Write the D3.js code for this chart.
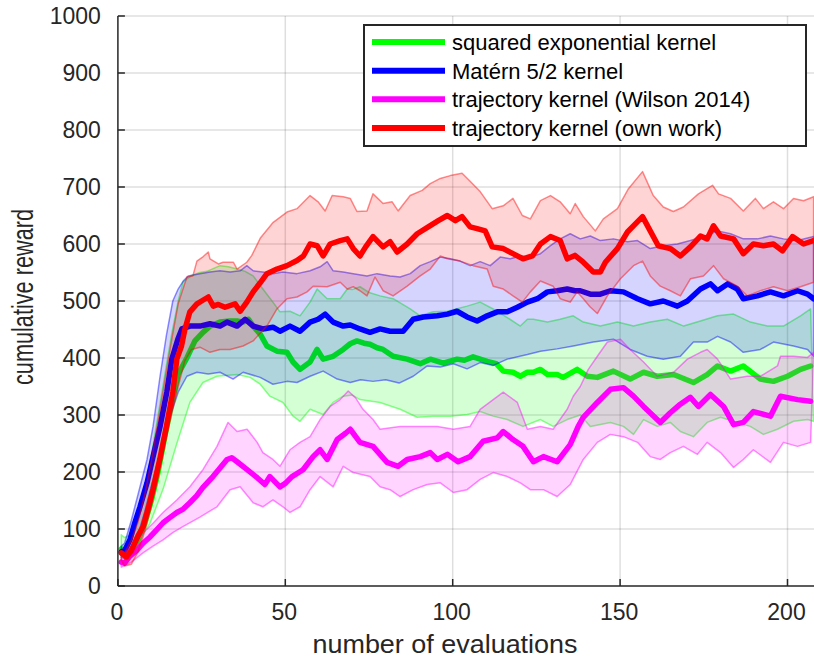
<!DOCTYPE html>
<html>
<head>
<meta charset="utf-8">
<script src="https://cdn.jsdelivr.net/npm/d3@7"></script>
<style>
  html, body { margin: 0; padding: 0; background: #fff; }
  svg { display: block; font-family: "Liberation Sans", Arial, Helvetica, sans-serif; }
</style>
</head>
<body>
<svg id="chart" width="814" height="660"></svg>
<script>
// Cumulative reward vs. number of evaluations: mean curves with spread bands.
// Each series is given as [evaluation, reward] pairs.

const xTicks = [0, 50, 100, 150, 200];
const yTicks = [0, 100, 200, 300, 400, 500, 600, 700, 800, 900, 1000];

const seriesNames = [
  "squared exponential kernel",
  "Matérn 5/2 kernel",
  "trajectory kernel (Wilson 2014)",
  "trajectory kernel (own work)"
];
const seriesColors = ["#00ff00", "#0000ff", "#ff00ff", "#ff0000"];

// squared exponential kernel
const seMean = [[1,65],[2,60],[4,62],[6,80],[8,110],[10,150],[12,200],[14,262],[16,320],[18,372],[20.6,400],[23,430],[25.4,445],[27.5,456],[30.5,463],[33.5,465],[35.6,465],[37.4,463],[39,468],[40.4,456],[42.5,442],[44.5,421],[47.5,412],[50.5,410],[52.3,393],[54.4,380],[57.4,393],[59.5,415],[61.3,398],[64.3,403],[67.3,415],[69.4,425],[71.4,430],[73.5,426],[75.3,424],[77.4,418],[79.2,415],[82.2,403],[86.4,398],[90.3,390],[93.3,398],[97.2,391],[101.3,398],[103.5,396],[106.1,402],[110.3,394],[113,390],[115.1,377],[118,375],[120.2,368],[122.3,375],[124.1,375],[126.2,380],[128.3,371],[131.2,371],[133,366],[137.2,380],[140.2,368],[143.2,366],[148,377],[153,363],[157,375],[161.1,368],[166,371],[171.9,357],[176,371],[179.1,386],[183,377],[186.8,386],[191.9,363],[195.8,359],[200,368],[203.9,380],[206.9,386]];
const seUpper = [[1,90],[2,85],[4,90],[6,120],[8,170],[10,230],[12,300],[14,370],[16,440],[18,500],[19.4,533],[22,545],[24.5,550],[26.6,552],[30.5,562],[33,560],[35.6,556],[38,552],[40.4,544],[43.3,521],[46.3,498],[48.4,481],[51.4,482],[54.4,474],[57.4,498],[59.5,521],[62.5,504],[66.4,504],[68.5,521],[70,520],[72.3,525],[75,515],[78.3,509],[82.2,504],[87.3,486],[90.3,474],[94.2,481],[98.4,482],[104.3,491],[108.2,498],[112.1,486],[116.3,471],[120.2,456],[122.3,468],[124.1,468],[128.3,463],[132.1,468],[136,474],[139,463],[144.1,456],[149.2,463],[154,456],[159,463],[164.1,468],[169,456],[174,465],[179.1,474],[183.9,477],[188.9,463],[194,456],[198.8,456],[203.9,474],[206.9,486]];
const seLower = [[1,55],[2.7,50],[5,70],[9.6,110],[13.5,170],[17.6,250],[21.5,322],[25.4,357],[29.6,368],[35.6,371],[39.5,366],[42.5,354],[45.4,333],[49.3,322],[52.3,298],[54.4,289],[57.4,310],[61.3,301],[64.3,322],[67.3,333],[70,335],[72.3,327],[78.3,322],[84.3,310],[89.4,296],[94.2,298],[99.3,298],[104.3,301],[108.2,306],[112.1,298],[116.3,292],[121,280],[126.2,292],[130,280],[134.2,292],[138.1,300],[141.1,280],[147.1,287],[151,280],[154,266],[157,292],[161.1,280],[165,287],[168,271],[171.9,262],[176,287],[180,296],[185,287],[188.9,280],[192.8,266],[197,275],[201.8,289],[206,292],[207.8,289]];

// Matérn 5/2 kernel
const maternMean = [[1,60],[2,62],[3.6,81],[5,110],[6.6,139],[8.7,181],[10.5,227],[12.6,280],[14.6,340],[16.1,398],[17.9,433],[19.1,451],[21.5,456],[24.5,456],[27.5,460],[30.5,456],[32.6,463],[35.6,456],[38,468],[40.4,456],[43.3,451],[46.3,454],[48.4,447],[51.4,456],[54.4,447],[57.4,463],[59.8,468],[61.9,477],[64.3,463],[67.3,456],[69.4,458],[72.3,451],[75.3,445],[78.3,451],[81.3,447],[85.2,447],[88.2,468],[91.2,472],[95.4,474],[98.4,477],[101.3,482],[104.3,472],[107.3,465],[110.3,474],[113.3,481],[116.3,481],[119.3,489],[122.3,498],[125.3,504],[128.3,516],[131.2,518],[134.2,521],[136.5,518],[138.1,518],[141.1,512],[144.1,512],[147.1,518],[151,516],[155.2,504],[159,495],[162.9,500],[167.1,491],[170.1,500],[174,521],[177,530],[179.1,518],[182.1,530],[185,521],[186.8,504],[191,509],[194.9,516],[198.8,509],[203,518],[206,512],[207.8,504]];
const maternUpper = [[1,70],[2,75],[4,115],[6,160],[8.7,222],[10.5,280],[12.6,368],[14.5,440],[16.4,500],[18,521],[19.5,535],[21,544],[24.5,548],[27.5,551],[30.5,553],[33.5,551],[36.5,553],[38.5,562],[40.4,553],[43.3,551],[46.3,548],[49.3,551],[53.5,548],[57.4,553],[60.4,560],[62.5,569],[64.3,553],[67.3,551],[70.3,548],[74.4,544],[77.4,548],[81.3,544],[84.3,542],[87.3,548],[90.3,562],[93.3,569],[96.3,577],[99.3,574],[102.2,570],[105.2,562],[108.2,569],[111.2,562],[114.2,577],[117.2,574],[120.2,579],[123.2,577],[126.2,583],[129.2,597],[132.1,609],[135.1,618],[138.1,609],[141.1,614],[144.1,606],[148,609],[152.2,604],[155.2,606],[159,592],[162.9,597],[167.1,600],[171,606],[174.9,613],[179.1,623],[183,618],[186.8,609],[191,609],[194.9,614],[198.8,609],[203,606],[207.8,613]];
const maternLower = [[1,50],[2,48],[4,60],[6,90],[8,130],[10,175],[12,220],[14,265],[16,305],[18,340],[20.6,368],[23.6,375],[27,372],[30.5,375],[34.4,363],[37.4,375],[42.5,366],[46.3,354],[50.5,359],[53.5,357],[57.4,368],[61.3,377],[65.5,363],[69.4,357],[72.5,362],[76.2,359],[80,362],[84,356],[88.2,368],[92.4,386],[96.3,384],[100.2,390],[104.3,381],[108.2,392],[112.1,387],[116.3,398],[122.3,406],[126.2,412],[131.2,416],[136,421],[142,428],[148,433],[153,415],[158.1,403],[162.9,398],[168,403],[171.9,428],[176,428],[179.1,438],[183,428],[186.8,410],[191.9,415],[195.8,428],[201.8,421],[206,415],[207.8,403]];

// trajectory kernel (Wilson 2014)
const wilsonMean = [[1,42],[2,40],[3.5,52],[5.7,63],[7.5,75],[9.6,86],[11.5,98],[13.5,111],[15.5,120],[17.6,129],[19.5,135],[21.5,146],[23.5,158],[25.4,173],[28.4,192],[30.5,207],[32.6,222],[34,225],[35.6,218],[38.6,204],[41.6,190],[43.9,178],[45.4,192],[48.4,174],[50,180],[52,192],[55.3,204],[58.3,227],[60.4,239],[62.5,222],[65.5,257],[68,268],[69.4,275],[72.3,252],[76.2,245],[80.4,217],[83.7,210],[86.4,222],[90.3,227],[93.3,234],[95.4,222],[98.4,231],[101.6,218],[105.2,227],[109.1,254],[113.3,260],[115.1,271],[118,257],[121,245],[124.1,218],[127.1,227],[131.2,218],[135.1,248],[137.5,280],[139,296],[143.2,322],[147.1,345],[151,348],[154,333],[157,315],[162,287],[165,304],[168,319],[171,331],[173.4,315],[177,336],[180.9,315],[183.9,283],[186.8,287],[189.8,306],[194.9,298],[197.9,333],[203,327],[206.9,324]];
const wilsonUpper = [[1,50],[4,70],[7.5,93],[10.5,110],[13.5,129],[17.6,151],[21.5,174],[25.4,204],[29.6,245],[32.9,287],[35.6,271],[38.6,275],[41.6,252],[43.3,234],[46.3,222],[48.4,210],[51.4,239],[54.4,252],[57.4,262],[60.4,292],[63.4,315],[66.4,327],[68.8,342],[71,330],[73.2,310],[76.2,292],[78.3,275],[84.3,280],[89.4,280],[95.4,280],[100.2,275],[105.2,280],[108.2,310],[112.1,327],[115.1,340],[119.3,322],[122.3,275],[126.2,280],[130,275],[134.2,310],[136,333],[138.1,350],[140.5,380],[143.2,403],[146.2,428],[150.1,433],[153,415],[157,393],[161.1,368],[166,375],[170.1,398],[174,410],[176,415],[179.1,398],[183,363],[188,368],[191.9,368],[197,386],[197.9,403],[201.8,403],[206,401],[207.8,410]];
const wilsonLower = [[1,33],[4,42],[7.5,58],[10.5,70],[13.5,81],[16.5,94],[19.4,104],[24.5,121],[29.6,139],[33.5,169],[36.5,174],[40.4,146],[43.3,139],[46.3,151],[49.3,139],[51.4,129],[54.4,139],[57.4,169],[60.4,192],[64.3,174],[67.3,210],[70.3,199],[75.3,192],[78.3,174],[81.3,169],[84.3,157],[88.2,169],[92.4,178],[96.3,181],[100.2,164],[104.3,169],[108.2,187],[112.1,199],[116.3,192],[120.2,181],[123.2,169],[127.1,169],[131.2,157],[135.1,178],[139,222],[143.2,252],[147.1,266],[151,262],[155.2,252],[159,227],[162,222],[165,234],[168.9,245],[173.1,231],[176,252],[180,234],[183.9,208],[186.8,222],[189.8,239],[194.9,217],[198.8,252],[203,245],[206.9,252]];

// trajectory kernel (own work)
const ownMean = [[1,58],[2.6,51],[4,62],[5,75],[6,88],[7.5,104],[9,135],[10.5,170],[12.5,222],[14.5,280],[16.4,340],[17.6,398],[19,421],[20,450],[21.5,481],[23.6,495],[25,500],[27,507],[28.5,491],[30,494],[32,489],[35,495],[36.5,482],[38.5,498],[40.4,516],[42.5,532],[44.5,548],[47.5,556],[50.5,562],[53.5,571],[55.4,579],[57.4,600],[59.5,597],[61.3,579],[63.4,600],[66.4,606],[68.5,609],[70.3,592],[72.3,579],[74,595],[76.2,613],[79.2,595],[81.3,604],[83.4,586],[86.4,600],[89.4,618],[92.7,630],[95.7,641],[98.4,650],[100.8,641],[102.8,648],[105.2,630],[107.3,627],[109.7,623],[111.8,595],[115.1,592],[118,583],[121,574],[123.8,579],[126.2,600],[129.2,613],[132.1,606],[134.2,574],[136.5,580],[139,568],[142,551],[144.1,551],[145.6,568],[149.2,592],[152.2,621],[154.5,635],[156.7,648],[159,623],[161.4,597],[165,592],[168,579],[171,595],[174,614],[176,609],[177.9,632],[180,614],[183.9,609],[186.8,583],[189.8,600],[192.8,597],[195.8,600],[198.5,588],[201.5,613],[204.8,600],[207.8,606]];
const ownUpper = [[1,62],[2,58],[4,80],[6,112],[8,160],[10,220],[12,290],[14,360],[16,430],[18,495],[20.6,542],[22.4,544],[23.6,570],[25.5,578],[27,586],[27.5,574],[30,565],[31.4,568],[34.5,568],[35.6,556],[38.5,568],[40,580],[42.5,610],[46.4,638],[50.5,656],[53.5,662],[57.4,685],[59.8,674],[61.9,658],[64,685],[67.3,683],[69.4,680],[71.4,657],[74.4,658],[76.2,688],[79.2,671],[81.9,674],[83.7,658],[87.3,685],[90.9,694],[93.3,706],[96.3,715],[99.3,720],[102.8,724],[105.2,710],[108.2,692],[111.8,662],[115.1,667],[118,680],[120.8,650],[123.2,644],[126.2,676],[129.2,685],[132.1,674],[135.1,653],[136.6,671],[139,648],[142.6,623],[145,644],[149.2,662],[152.5,697],[156.7,727],[159.9,685],[162.9,665],[165.9,657],[168.9,665],[173.4,688],[177.6,703],[179.4,688],[183,680],[186.8,658],[190.4,680],[192.8,662],[195.8,674],[198.8,662],[201.8,680],[204.8,676],[207.8,683]];
const ownLower = [[1,45],[2,35],[4,38],[6,60],[8,95],[10,140],[12,190],[14,250],[16,300],[18,350],[20,395],[22,415],[24.5,419],[27.5,410],[30.5,415],[33.5,415],[37.4,421],[40.4,430],[44.5,456],[47.5,486],[50.5,504],[53.5,507],[56.5,516],[58.3,526],[62.5,525],[66.4,533],[68.5,521],[70.3,525],[72.3,518],[74.4,509],[76.8,542],[79.2,518],[82.2,509],[86.4,526],[90.3,544],[93.3,556],[96.3,579],[98.4,574],[102.2,570],[106.1,562],[110.3,556],[112.1,526],[115.1,521],[118,509],[120.8,498],[123.2,516],[126.2,535],[130,526],[132.1,504],[135.1,498],[137.2,516],[139,504],[141,490],[143.2,478],[146.2,509],[150.1,539],[154,562],[156.7,570],[159,544],[162,526],[165,518],[168,509],[171,539],[174.9,544],[177.9,562],[180.9,539],[185,526],[188,509],[191.9,518],[195.8,525],[200,518],[203.9,525],[207.8,533]];

const means  = [seMean, maternMean, wilsonMean, ownMean];
const uppers = [seUpper, maternUpper, wilsonUpper, ownUpper];
const lowers = [seLower, maternLower, wilsonLower, ownLower];

// ---- layout ----
const svg = d3.select("#chart");
const plot = { left: 117.9, top: 16, bottom: 586, right: 814 };

const x = d3.scaleLinear().domain([0, 210]).range([plot.left, plot.left + 210 * 3.348]);
const y = d3.scaleLinear().domain([0, 1000]).range([plot.bottom, plot.top]);

const ink = "#262626";

svg.append("defs").append("clipPath").attr("id", "plotClip")
  .append("rect")
  .attr("x", plot.left).attr("y", plot.top - 10)
  .attr("width", plot.right - plot.left).attr("height", plot.bottom - plot.top + 10);

// grid
const grid = svg.append("g").attr("stroke", "#000").attr("stroke-opacity", 0.13).attr("stroke-width", 1.5);
grid.selectAll("line.gx").data(xTicks.filter(t => t > 0)).join("line")
  .attr("x1", d => x(d)).attr("x2", d => x(d))
  .attr("y1", plot.top).attr("y2", plot.bottom);
grid.selectAll("line.gy").data(yTicks.filter(t => t > 0)).join("line")
  .attr("x1", plot.left).attr("x2", plot.right)
  .attr("y1", d => y(d)).attr("y2", d => y(d));

// data: each series draws its mean curve, then its translucent band on top
const dataLayer = svg.append("g").attr("clip-path", "url(#plotClip)");
const line = d3.line().x(d => x(d[0])).y(d => y(d[1]));

means.forEach((m, i) => {
  const col = seriesColors[i];
  dataLayer.append("path")
    .attr("d", line(m))
    .attr("fill", "none")
    .attr("stroke", col)
    .attr("stroke-width", 5.5)
    .attr("stroke-linejoin", "round")
    .attr("stroke-linecap", "round");

  const ring = uppers[i].concat(lowers[i].slice().reverse());
  dataLayer.append("path")
    .attr("d", line(ring) + "Z")
    .attr("fill", col)
    .attr("fill-opacity", 0.17)
    .attr("stroke", col)
    .attr("stroke-opacity", 0.45)
    .attr("stroke-width", 1.5)
    .attr("stroke-linejoin", "round");
});

// axes
const axes = svg.append("g").attr("stroke", ink).attr("stroke-width", 1.5);
axes.append("line").attr("x1", plot.left).attr("x2", plot.left).attr("y1", plot.top).attr("y2", plot.bottom);
axes.append("line").attr("x1", plot.left).attr("x2", plot.right).attr("y1", plot.bottom).attr("y2", plot.bottom);
axes.selectAll("line.ty").data(yTicks).join("line")
  .attr("x1", plot.left).attr("x2", plot.left + 7)
  .attr("y1", d => y(d)).attr("y2", d => y(d));
axes.selectAll("line.tx").data(xTicks).join("line")
  .attr("x1", d => x(d)).attr("x2", d => x(d))
  .attr("y1", plot.bottom).attr("y2", plot.bottom - 7);

// tick labels
svg.append("g").selectAll("text").data(yTicks).join("text")
  .attr("x", plot.left - 17).attr("y", d => y(d)).attr("dy", "0.36em")
  .attr("text-anchor", "end").attr("font-size", 23).attr("fill", ink)
  .text(d => d);
svg.append("g").selectAll("text").data(xTicks).join("text")
  .attr("x", d => x(d) - 1).attr("y", 620)
  .attr("text-anchor", "middle").attr("font-size", 23).attr("fill", ink)
  .text(d => d);

// axis titles
svg.append("text")
  .attr("x", 445).attr("y", 653)
  .attr("text-anchor", "middle").attr("font-size", 26).attr("fill", ink)
  .attr("textLength", 265).attr("lengthAdjust", "spacingAndGlyphs")
  .text("number of evaluations");
svg.append("text")
  .attr("transform", `translate(33, ${(plot.top + plot.bottom) / 2 - 4}) rotate(-90)`)
  .attr("text-anchor", "middle").attr("font-size", 29).attr("fill", ink)
  .attr("textLength", 176).attr("lengthAdjust", "spacingAndGlyphs")
  .text("cumulative reward");

// legend
const legend = svg.append("g");
legend.append("rect")
  .attr("x", 364).attr("y", 25).attr("width", 442).attr("height", 121)
  .attr("fill", "#fff").attr("stroke", ink).attr("stroke-width", 2);
const rowY = d3.scalePoint().domain(seriesNames).range([42, 128]);
seriesNames.forEach((name, i) => {
  legend.append("line")
    .attr("x1", 372).attr("x2", 445)
    .attr("y1", rowY(name)).attr("y2", rowY(name))
    .attr("stroke", seriesColors[i]).attr("stroke-width", 6);
  legend.append("text")
    .attr("x", 452).attr("y", rowY(name)).attr("dy", "0.36em")
    .attr("font-size", 22).attr("fill", "#000")
    .text(name);
});
</script>
</body>
</html>
